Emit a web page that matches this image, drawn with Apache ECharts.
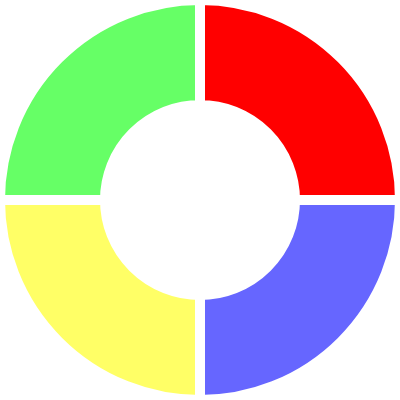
<!DOCTYPE html>
<html><head><meta charset="utf-8">
<script src="https://cdn.jsdelivr.net/npm/echarts@6/dist/echarts.min.js"></script>
<style>html,body{margin:0;padding:0;background:#fff}#c{width:400px;height:400px}</style>
</head><body><div id="c"></div>
<script>
const categories = ['A', 'B', 'C', 'D'];
const values = [1, 1, 1, 1];
const colors = ['#ff0000', '#6666ff', '#ffff66', '#66ff66'];
const chart = echarts.init(document.getElementById('c'), null, {renderer: 'canvas'});
chart.setOption({
  animation: false,
  color: colors,
  series: [{
    type: 'pie',
    center: ['50%', '50%'],
    radius: [95, 200],
    startAngle: 90,
    clockwise: true,
    label: {show: false},
    labelLine: {show: false},
    itemStyle: {borderColor: '#ffffff', borderWidth: 10},
    emphasis: {disabled: true},
    data: categories.map((n, i) => ({name: n, value: values[i]}))
  }]
});
</script></body></html>
